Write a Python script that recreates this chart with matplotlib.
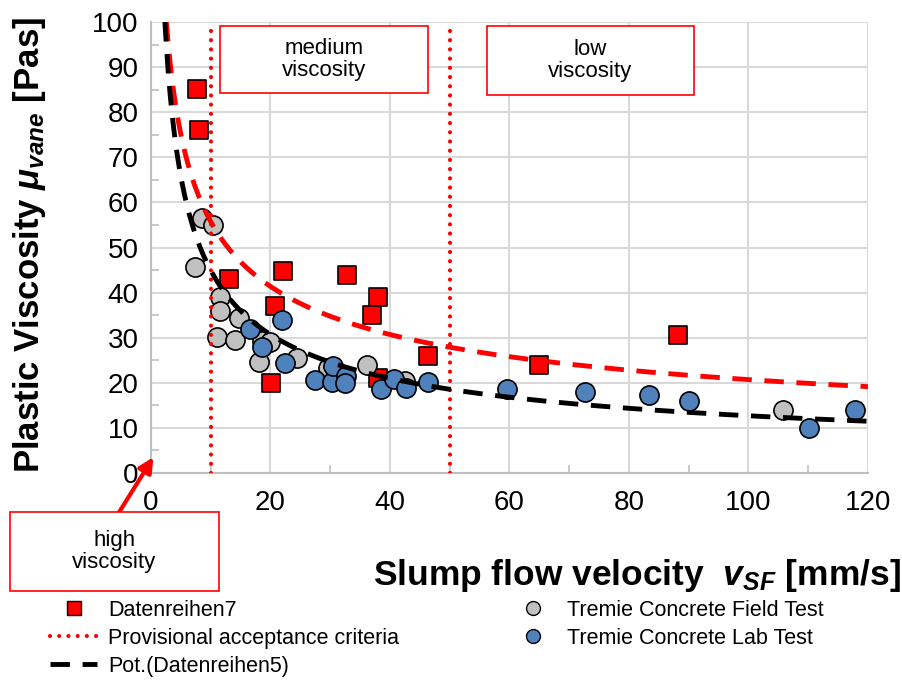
import numpy as np
import matplotlib.pyplot as plt
from matplotlib.patches import Rectangle
from matplotlib.lines import Line2D

plt.rcParams['font.family'] = ['Liberation Sans', 'DejaVu Sans']
plt.rcParams['mathtext.fontset'] = 'custom'
plt.rcParams['mathtext.it'] = 'Liberation Sans:bold:italic'
plt.rcParams['mathtext.rm'] = 'Liberation Sans:bold'
plt.rcParams['mathtext.bf'] = 'Liberation Sans:bold'

# red squares (Datenreihen7)
red_x = [7.7, 8.0, 13.1, 22.1, 20.8, 20.1, 32.8, 38.0, 37.0, 38.0, 46.4, 64.9, 88.2]
red_y = [85.1, 76.0, 43.0, 44.8, 37.0, 20.0, 43.9, 39.0, 35.0, 21.0, 26.0, 24.0, 30.6]

# Tremie Concrete Field Test
field_x = [8.5, 10.4, 7.4, 11.5, 11.5, 11.0, 14.0, 14.7, 18.1, 18.6, 19.9, 24.4, 29.6, 36.2, 42.5, 105.8]
field_y = [56.5, 55.0, 45.7, 39.0, 35.9, 30.2, 29.5, 34.4, 24.6, 29.3, 29.0, 25.5, 23.3, 24.0, 20.4, 14.0]

# Tremie Concrete Lab Test
lab_x = [16.6, 21.9, 18.6, 22.4, 27.4, 30.3, 30.5, 32.6, 32.5, 38.5, 40.7, 42.7, 46.4, 59.6, 72.6, 83.3, 90.0, 110.1, 117.8]
lab_y = [32.0, 34.0, 28.0, 24.4, 20.6, 20.2, 23.7, 21.5, 20.0, 18.6, 20.8, 18.8, 20.2, 18.6, 18.0, 17.3, 16.0, 10.0, 14.0]

# power trendlines y = a * x^b
red_fit = (150.0, -0.43)
black_fit = (159.0, -0.549)

# provisional acceptance criteria
criteria_x = [10, 50]

x_ticks = [0, 20, 40, 60, 80, 100, 120]
y_ticks = [0, 10, 20, 30, 40, 50, 60, 70, 80, 90, 100]

DOTS = (0, (0.01, 2.2))

fig = plt.figure(figsize=(9.03, 6.82), dpi=100)
ax = fig.add_axes([151 / 903, 1 - 473 / 682, 717 / 903, 451 / 682])

ax.set_xlim(0, 120)
ax.set_ylim(0, 100)
ax.set_xticks(x_ticks)
ax.set_yticks(y_ticks)
ax.set_xticks(np.arange(10, 120, 20), minor=True)
ax.set_yticks(np.arange(5, 100, 10), minor=True)
ax.tick_params(which='major', length=0, labelsize=20, pad=9)
ax.tick_params(axis='x', which='major', pad=12)
ax.tick_params(which='minor', direction='in', length=6, width=1.2, color='#bfbfbf')
ax.grid(True, which='major', color='#d9d9d9', lw=1.5)
ax.set_axisbelow(True)
for s in ['top', 'right']:
    ax.spines[s].set_visible(False)
for s in ['left', 'bottom']:
    ax.spines[s].set_color('#bfbfbf')
    ax.spines[s].set_linewidth(1.5)

# trendlines
for (a, b), col in [(red_fit, 'red'), (black_fit, 'black')]:
    x0 = (a / 100.0) ** (1.0 / -b)
    xs = np.linspace(x0, 120, 400)
    ax.plot(xs, a * xs ** b, color=col, lw=3.5, dashes=(4, 2.6), zorder=5)

for xc in criteria_x:
    ax.plot([xc, xc], [0, 100], color='red', lw=3, ls=DOTS,
            dash_capstyle='round', zorder=4)

ax.scatter(red_x, red_y, marker='s', s=150, color='#ff0000', edgecolor='black', lw=1.2, zorder=3)
ax.scatter(field_x, field_y, marker='o', s=190, color='#c0c0c0', edgecolor='black', lw=1.2, zorder=3)
ax.scatter(lab_x, lab_y, marker='o', s=190, color='#4f81bd', edgecolor='black', lw=1.2, zorder=3)

# viscosity boxes
def box(x0, y0, x1, y1, text):
    fig.add_artist(Rectangle((x0 / 903, 1 - y1 / 682), (x1 - x0) / 903, (y1 - y0) / 682,
                             transform=fig.transFigure, facecolor='white',
                             edgecolor='red', lw=1.2, zorder=6))
    fig.text((x0 + x1) / 2 / 903, 1 - (y0 + y1) / 2 / 682, text, ha='center', va='center',
             fontsize=16, linespacing=1.1, zorder=7)

box(220, 26, 428, 93, 'medium\nviscosity')
box(487, 26, 694, 95, 'low\nviscosity')
box(10, 512, 219, 591, 'high\nviscosity')

ax.annotate('', xy=(0.4, 3.5), xytext=(118 / 903, 1 - 514 / 682), xycoords='data',
            textcoords='figure fraction',
            arrowprops=dict(arrowstyle='-|>', color='red', lw=3, mutation_scale=22,
                            shrinkA=0, shrinkB=0), annotation_clip=False)

fig.text(30 / 903, 1 - 245 / 682, r'Plastic Viscosity $\mu_{vane}$ [Pas]', rotation=90,
         ha='center', va='center', fontsize=25, fontweight='bold')
fig.text(637 / 903, 1 - 576 / 682, r'Slump flow velocity  $v_{SF}$ [mm/s]',
         ha='center', va='center', fontsize=25.5, fontweight='bold')

handles = [
    Line2D([], [], ls='none', marker='s', ms=10, mfc='#ff0000', mec='black', mew=1),
    Line2D([], [], color='red', lw=3, ls=DOTS, dash_capstyle='round'),
    Line2D([], [], color='black', lw=3.5, dashes=(4, 2.6)),
    Line2D([], [], ls='none', marker='o', ms=10, mfc='#c0c0c0', mec='black', mew=1),
    Line2D([], [], ls='none', marker='o', ms=10, mfc='#4f81bd', mec='black', mew=1),
]
labels = ['Datenreihen7', 'Provisional acceptance criteria', 'Pot.(Datenreihen5)',
          'Tremie Concrete Field Test', 'Tremie Concrete Lab Test']
fig.legend(handles, labels, ncol=2, loc='upper left', bbox_to_anchor=(50 / 903, 1 - 600 / 682),
           frameon=False, fontsize=15.5, borderpad=0, borderaxespad=0, handlelength=2.2,
           handletextpad=0.5, columnspacing=5.1, labelspacing=0.32)

fig.savefig('out.png', dpi=100)
